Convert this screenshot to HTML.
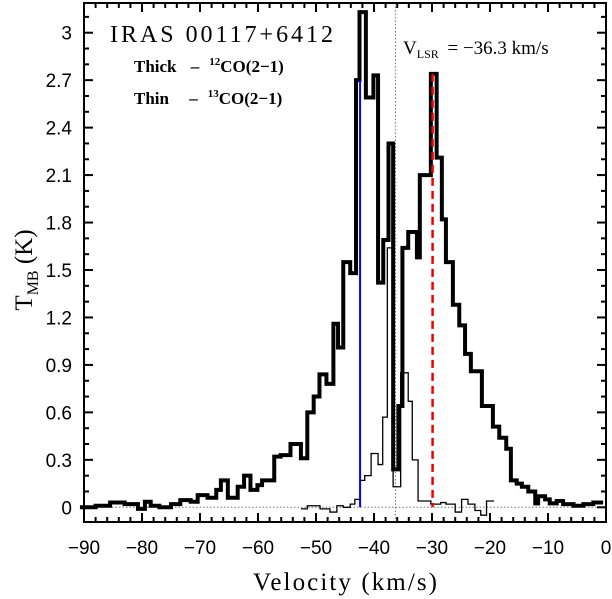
<!DOCTYPE html>
<html><head><meta charset="utf-8"><style>
html,body{margin:0;padding:0;background:#fff}
svg{display:block}
.tk{font-family:"Liberation Sans",sans-serif;font-size:19px}
.sf{font-family:"Liberation Serif",serif}
</style></head><body>
<svg id="chart" width="612" height="599" viewBox="0 0 612 599" xmlns="http://www.w3.org/2000/svg">
<g id="axes"></g>
<g id="series"></g>
<text class="sf" x="110" y="42" font-size="24" textLength="223" lengthAdjust="spacing">IRAS 00117+6412</text>
<text class="sf" x="134" y="72" font-size="17" font-weight="bold">Thick  <tspan dx="10">–</tspan><tspan dx="10" font-size="11" dy="-7">12</tspan><tspan dy="7">CO(2−1)</tspan></text>
<text class="sf" x="134" y="104" font-size="17" font-weight="bold">Thin  <tspan dx="16">–</tspan><tspan dx="10" font-size="11" dy="-7">13</tspan><tspan dy="7">CO(2−1)</tspan></text>
<text class="sf" x="403" y="54" font-size="19">V<tspan font-size="12" dy="4">LSR</tspan><tspan dy="-4" dx="4"> =  −36.3  km/s</tspan></text>
<text class="sf" x="253" y="590" font-size="25" textLength="184" lengthAdjust="spacing">Velocity (km/s)</text>
<text class="sf" transform="translate(32,270) rotate(-90)" font-size="25" text-anchor="middle">T<tspan font-size="16" dy="6">MB</tspan><tspan dy="-6">  (K)</tspan></text>
</svg>
<script>
const thickEdges=[-90.7,-88,-85.5,-83,-80.7,-79.5,-78.5,-77,-75,-73.4,-71.6,-70.4,-68.7,-67.2,-66.4,-65.2,-63.5,-62.4,-61.3,-60.1,-59.3,-57.2,-56.1,-54.4,-52.6,-51.5,-50.4,-49.4,-48.2,-47.0,-46.2,-45.3,-44.1,-43.1,-42.5,-41.4,-40.1,-39.3,-38.4,-37.5,-36.7,-35.8,-35.1,-34.1,-32.6,-32.1,-30.2,-29.2,-28.3,-27.6,-26.4,-25.3,-24.3,-23.3,-21.4,-19.5,-18.4,-17.2,-16.4,-15.4,-14.5,-13.4,-12.2,-11.7,-10.5,-9.7,-8.5,-7.4,-5.6,-3.9,-2.2,-0.5];
const thickVals=[0.0,0.01,0.03,0.02,-0.01,0.035,0.01,0.0,0.02,0.045,0.035,0.077,0.06,0.11,0.17,0.06,0.13,0.2,0.11,0.14,0.17,0.32,0.33,0.40,0.31,0.60,0.70,0.84,0.78,1.16,1.01,1.55,1.48,2.70,3.13,2.59,2.73,1.42,1.69,2.30,0.24,0.64,1.64,1.74,1.58,2.10,2.74,2.21,1.82,1.55,1.28,1.15,0.97,0.86,0.64,0.51,0.44,0.37,0.17,0.15,0.13,0.10,0.025,0.07,0.05,0.025,0.04,0.02,0.01,0.02,0.03];
const thickEnd=0;
const thinEdges=[-52.6,-51.5,-49.3,-47.6,-46.4,-45.3,-44.1,-43.3,-42.4,-41.6,-40.5,-39.3,-38.5,-37.7,-36.7,-35.4,-34.1,-33.4,-32.4,-30.2,-28.5,-27.6,-26.0,-24.9,-23.8,-22.6,-21.6,-20.6];
const thinVals=[-0.01,0.01,-0.01,-0.03,0.01,0.0,0.02,0.05,0.17,0.20,0.34,0.27,0.57,1.64,0.13,0.85,0.67,0.30,0.04,0.02,0.03,0.02,-0.03,0.05,0.02,-0.02,-0.05,0.04];
const thinEnd=-19.3;
const xTicks=[-90,-80,-70,-60,-50,-40,-30,-20,-10,0];
const yTicks=[0,0.3,0.6,0.9,1.2,1.5,1.8,2.1,2.4,2.7,3];
const yTickLabels=["0","0.3","0.6","0.9","1.2","1.5","1.8","2.1","2.4","2.7","3"];
const vBlue=-42.4, tBlue=2.70, vRed=-29.9, tRed=2.74, vLsr=-36.3;

const X0=84,X1=606,YT=3,YB=522;
const xs=v=>X1+(v-0)*(X1-X0)/90;
const ys=t=>507.3-t*158.2;
const NS="http://www.w3.org/2000/svg";
function mk(parent,tag,attrs){const e=document.createElementNS(NS,tag);for(const k in attrs)e.setAttribute(k,attrs[k]);parent.appendChild(e);return e;}
const ax=document.getElementById('axes'), se=document.getElementById('series');
let z=mk(ax,'line',{x1:X0,x2:X1,y1:ys(0),y2:ys(0),stroke:'#777','stroke-width':1,'stroke-dasharray':'1.5,2'});


let vl=mk(ax,'line',{x1:xs(vLsr),x2:xs(vLsr),y1:YT,y2:YB,stroke:'#777','stroke-width':1,'stroke-dasharray':'1.5,2'});


let fr=mk(ax,'rect',{x:X0,y:YT,width:X1-X0,height:YB-YT,fill:'none',stroke:'#000','stroke-width':2});


for(let v=-90;v<=0;v+=2){const maj=v%10===0;const L=maj?9:5;
 mk(ax,'line',{x1:xs(v),x2:xs(v),y1:YB,y2:YB-L,stroke:'#000','stroke-width':2});
 mk(ax,'line',{x1:xs(v),x2:xs(v),y1:YT,y2:YT+L,stroke:'#000','stroke-width':2});}
xTicks.forEach(v=>{const t=mk(ax,'text',{x:xs(v),y:554,'text-anchor':'middle',class:'tk'});t.textContent=(v<0?'−':'')+Math.abs(v);
 
 });
for(let i=0;i<=31;i++){const t=i/10;const maj=i%3===0;const L=maj?9:5;
 mk(ax,'line',{x1:X0,x2:X0+L,y1:ys(t),y2:ys(t),stroke:'#000','stroke-width':2});
 mk(ax,'line',{x1:X1,x2:X1-L,y1:ys(t),y2:ys(t),stroke:'#000','stroke-width':2});}
yTicks.forEach((t,i)=>{const e=mk(ax,'text',{x:72,y:ys(t)+7,'text-anchor':'end',class:'tk'});e.textContent=yTickLabels[i];
 
 });
function stepPath(edges,vals,end){let d='';for(let i=0;i<vals.length;i++){const a=xs(edges[i]),b=xs(i+1<edges.length?edges[i+1]:end),y=ys(vals[i]);d+=(i?'L':'M')+a+','+y+'L'+b+','+y;}return d;}
let thin=mk(se,'path',{d:stepPath(thinEdges,thinVals,thinEnd),fill:'none',stroke:'#000','stroke-width':1.3});


let thick=mk(se,'path',{d:stepPath(thickEdges,thickVals,thickEnd),fill:'none',stroke:'#000','stroke-width':4,'stroke-linejoin':'miter'});


let bl=mk(se,'line',{x1:xs(vBlue),x2:xs(vBlue),y1:ys(tBlue),y2:ys(0),stroke:'#0000ff','stroke-width':2});


let rl=mk(se,'line',{x1:xs(vRed),x2:xs(vRed),y1:ys(tRed),y2:ys(0),stroke:'#ee0000','stroke-width':2.5,'stroke-dasharray':'8,5'});


</script>
</body></html>
